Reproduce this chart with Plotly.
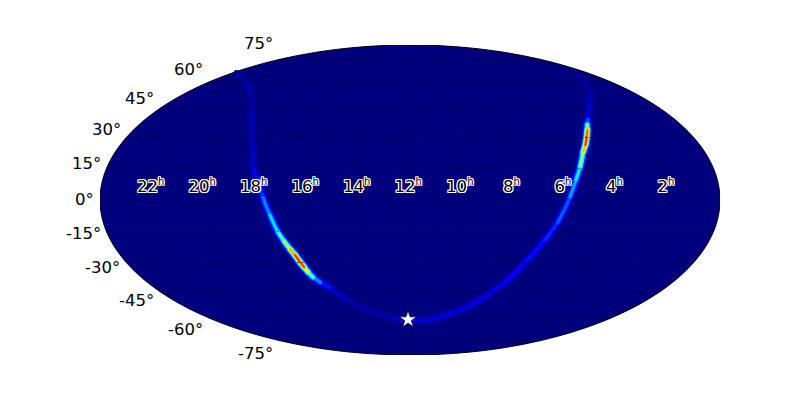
import math
import plotly.graph_objects as go

# ridge of the probability arc: sky longitude (deg, 0 = 12h), declination (deg), relative density
arc_lon = [-178, -171, -147.8, -129.6, -112.7, -102.8, -96.3, -92.3, -88.1, -85.3, -81.7, -78.4, -75.9, -73.4, -71.4, -69.7,
           -68.2, -66.8, -64.9, -61.5, -56.4, -48.7, -31.1, -13.4, -1.8, 13.8, 26.6, 44.5, 58.1, 67.2, 73.7, 81.1, 86.8,
           92.9, 97.2, 101.1, 105.7, 109, 112.4, 115.5, 117.8, 120.7, 132.3, 144.4, 154.9, 162.6]
arc_lat = [66, 64.6, 60, 54.2, 44.1, 33.8, 23.9, 14.2, 7.1, 1, -7.1, -15.1, -19.5, -23.4, -26.3, -29.7,
           -32.3, -34.9, -37.4, -40, -43, -48.5, -56.5, -60, -60.9, -61.2, -59.3, -54.2, -45.8, -37.9, -29, -18.9, -10.4,
           1.4, 9.5, 15.6, 22.8, 26.3, 30.2, 33.8, 36.4, 38.9, 46.8, 53.5, 59.4, 64]
arc_val = [0.01, 0.025, 0.055, 0.04, 0.05, 0.05, 0.06, 0.09, 0.16, 0.24, 0.32, 0.42, 0.52, 0.68, 0.85, 0.93,
           0.8, 0.6, 0.4, 0.2, 0.09, 0.045, 0.035, 0.06, 0.09, 0.1, 0.085, 0.095, 0.105, 0.115, 0.125, 0.145, 0.19,
           0.28, 0.33, 0.45, 0.65, 0.85, 0.93, 0.75, 0.35, 0.12, 0.05, 0.045, 0.035, 0.02]

ra_hours = [22, 20, 18, 16, 14, 12, 10, 8, 6, 4, 2]
dec_ticks = [75, 60, 45, 30, 15, 0, -15, -30, -45, -60, -75]
dec_pos = [(275, 44), (205, 69), (156, 98), (123, 130), (103, 163), (96, 199), (103, 233), (122, 267), (156, 300), (205, 329), (275, 353)]
star_lon = [-1.8]
star_lat = [-60.9]

BG = "#00007f"
levels = [0.012, 0.02, 0.03, 0.045, 0.06, 0.08, 0.10, 0.13, 0.16, 0.2, 0.25, 0.3, 0.35, 0.4, 0.45, 0.5, 0.55, 0.6,
          0.65, 0.7, 0.75, 0.8, 0.85, 0.9, 0.95]


def jet(v):
    stops = [(0, 0, 0, 127), (0.11, 0, 0, 255), (0.36, 0, 255, 255), (0.62, 255, 255, 0), (0.89, 255, 0, 0), (1, 127, 0, 0)]
    for a, b in zip(stops, stops[1:]):
        if v <= b[0]:
            t = (v - a[0]) / (b[0] - a[0])
            return "rgb(%d,%d,%d)" % tuple(a[k] + t * (b[k] - a[k]) for k in (1, 2, 3))
    return "rgb(127,0,0)"


fig = go.Figure()
sphere_lons = list(range(180, -181, -10))
fig.add_trace(go.Scattergeo(lon=sphere_lons, lat=[-89.9] * len(sphere_lons), mode="lines", fill="toself", fillcolor=BG,
                            line=dict(width=0, color=BG), hoverinfo="skip", showlegend=False))
for lev in levels:
    for i in range(len(arc_lon) - 1):
        val = (arc_val[i] + arc_val[i + 1]) / 2
        if val <= lev:
            continue
        sigma = 2.1 + 0.6 * (1 - min(val / 0.3, 1))
        w = 2 * sigma * math.sqrt(2 * math.log(val / lev))
        fig.add_trace(go.Scattergeo(lon=arc_lon[i:i + 2], lat=arc_lat[i:i + 2], mode="lines",
                                    line=dict(color=jet(lev), width=w), hoverinfo="skip", showlegend=False))

par_style = dict(mode="lines", line=dict(color="rgba(0,0,0,0.75)", width=1, dash="1px,3.5px"), hoverinfo="skip", showlegend=False)
mer_style = dict(mode="lines", line=dict(color="rgba(0,0,0,0.5)", width=0.8, dash="1px,4px"), hoverinfo="skip", showlegend=False)
for d in dec_ticks:
    lons = list(range(-180, 181, 5))
    fig.add_trace(go.Scattergeo(lon=lons, lat=[d] * len(lons), **par_style))
for h in ra_hours:
    lats = list(range(-75, 76, 5))
    fig.add_trace(go.Scattergeo(lon=[(12 - h) * 15] * len(lats), lat=lats, **mer_style))

# outline of the sky
limb_lats = list(range(-90, 91, 3))
for edge in (-179.99, 179.99):
    fig.add_trace(go.Scattergeo(lon=[edge] * len(limb_lats), lat=limb_lats, mode="lines",
                                line=dict(color="black", width=1), hoverinfo="skip", showlegend=False))

halo = "1px 0 0 #fff, -1px 0 0 #fff, 0 1px 0 #fff, 0 -1px 0 #fff, 1px 1px 0 #fff, -1px -1px 0 #fff, 1px -1px 0 #fff, -1px 1px 0 #fff"
fig.add_trace(go.Scattergeo(lon=[(12 - h) * 15 - 1 for h in ra_hours], lat=[5.6] * len(ra_hours), mode="text",
                            text=["%d<sup><span style='font-size:10px'>h</span></sup>" % h for h in ra_hours],
                            textposition="middle center",
                            textfont=dict(family="DejaVu Sans", size=16.5, color="black", shadow=halo),
                            hoverinfo="skip", showlegend=False))
fig.add_trace(go.Scattergeo(lon=star_lon, lat=star_lat, mode="markers",
                            marker=dict(symbol="star", size=13, color="white", line=dict(color="black", width=0.7)),
                            hoverinfo="skip", showlegend=False))

annotations = [dict(text="%d°" % d, x=p[0] / 800, y=1 - p[1] / 400, xref="paper", yref="paper", xanchor="right", yanchor="middle",
                    showarrow=False, font=dict(family="DejaVu Sans", size=16.5, color="black"))
               for d, p in zip(dec_ticks, dec_pos)]

fig.update_layout(
    width=800, height=400, margin=dict(l=0, r=0, t=0, b=0), paper_bgcolor="white", showlegend=False,
    annotations=annotations,
    geo=dict(projection=dict(type="mollweide"), domain=dict(x=[100 / 800, 720 / 800], y=[45 / 400, 355 / 400]),
             bgcolor="white", showframe=False,
             showland=False, showocean=False, showcoastlines=False, showlakes=False, showcountries=False, showrivers=False,
             lonaxis=dict(showgrid=False), lataxis=dict(showgrid=False)),
)
page_fix = ("document.body.style.margin='0';"
            "var s=document.createElement('style');s.textContent='.scattergeo path.js-line{stroke-linecap:round}';"
            "document.head.appendChild(s);")
fig.write_html("out.html", post_script=page_fix, config={"displayModeBar": False})
